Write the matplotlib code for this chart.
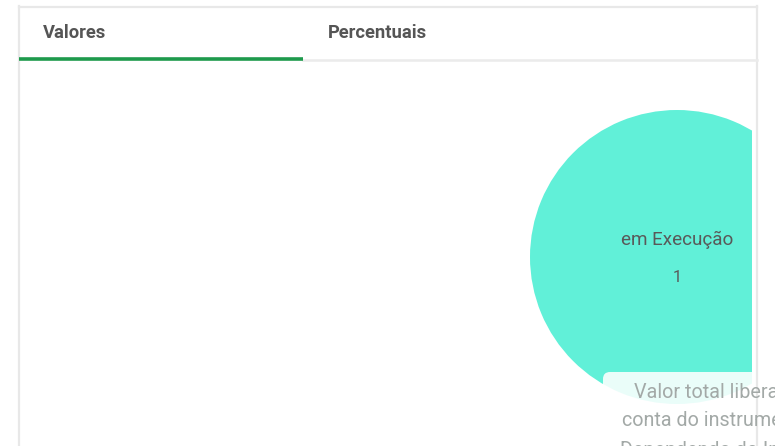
import matplotlib
matplotlib.use("Agg")
import matplotlib.pyplot as plt
from matplotlib.patches import FancyBboxPatch

# dados do gráfico
categorias = ["em Execução"]
valores = [1]
abas = ["Valores", "Percentuais"]
tooltip_linhas = ["Valor total liberado na", "conta do instrumento", "Dependendo do Instrumento"]

W, H = 775, 446
fig = plt.figure(figsize=(W / 100, H / 100), dpi=100)
fig.patch.set_facecolor("white")

# eixo de fundo em coordenadas de pixel
bg = fig.add_axes([0, 0, 1, 1])
bg.set_xlim(0, W)
bg.set_ylim(H, 0)
bg.axis("off")

borda = "#e8e8e8"
bg.plot([18.5, 18.5], [6, H], color=borda, lw=1.6)
bg.plot([757, 757], [6, H], color=borda, lw=1.6)
bg.plot([18.5, 757], [6.5, 6.5], color=borda, lw=1.6)
bg.plot([303, 757], [59.5, 59.5], color="#ebebeb", lw=1.8)
bg.plot([19, 303], [58.5, 58.5], color="#1e9a4c", lw=2.6, solid_capstyle="butt")

for txt, x in zip(abas, [43, 328]):
    bg.text(x, 32.5, txt, fontsize=13.2, fontweight="bold", color="#555555",
            family="Roboto", ha="left", va="center")

# área do gráfico (pizza)
x0, x1, y0, y1 = 19, 752, 61, H
ax = fig.add_axes([x0 / W, 0, (x1 - x0) / W, (y1 - y0) / H])
cx, cy, r = 677, 257, 147
fatias, _ = ax.pie(valores, colors=["#61f0d8"], center=(cx, cy), radius=r,
                   wedgeprops=dict(linewidth=0), startangle=90)
for f in fatias:
    f.set_clip_on(True)
    f.set_clip_path(ax.patch)
ax.set_aspect("auto")
ax.set_xlim(x0, x1)
ax.set_ylim(y1, y0)
ax.axis("off")

for cat, val in zip(categorias, valores):
    ax.text(cx, cy - 17, cat, fontsize=13.6, color="#595959", family="Roboto",
            ha="center", va="center")
    ax.text(cx, cy + 21, str(val), fontsize=11.5, color="#595959", family="Roboto",
            ha="center", va="center")

# tooltip
caixa = FancyBboxPatch((603, 372), 200, 120, boxstyle="round,pad=0,rounding_size=7",
                       facecolor="white", alpha=0.87, edgecolor="none")
caixa.set_clip_path(ax.patch)
ax.add_patch(caixa)
for i, linha in enumerate(tooltip_linhas):
    xs = [634, 622, 620][i]
    ys = 392 + i * 29
    fig.text(xs / W, 1 - ys / H, linha, fontsize=14.2, color="#a3a9a7",
             family="Roboto", ha="left", va="center")

fig.savefig("out.png", dpi=100)
